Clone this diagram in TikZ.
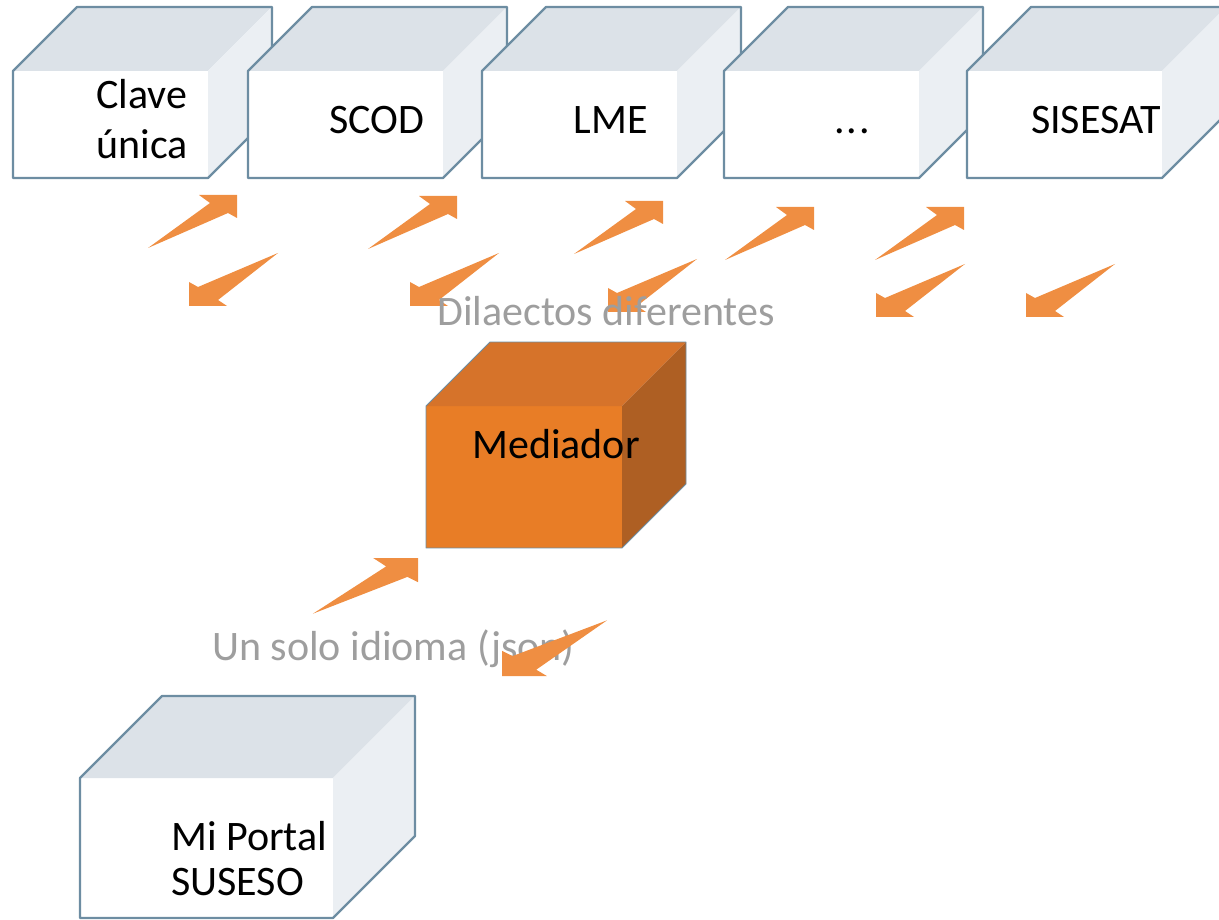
\documentclass[tikz,border=0pt]{standalone}
\usepackage{fontspec}
\setmainfont{Carlito}
\definecolor{edge}{HTML}{6D8DA2}
\definecolor{grayfront}{HTML}{FFFFFF}
\definecolor{graytop}{HTML}{DCE2E8}
\definecolor{grayside}{HTML}{EBEFF3}
\definecolor{orfront}{HTML}{E87D26}
\definecolor{ortop}{HTML}{D6732A}
\definecolor{orside}{HTML}{AE5F23}
\definecolor{arrowor}{HTML}{EF8E42}
\definecolor{labelgray}{HTML}{9E9E9E}
\newcommand\cubebox[8]{% name, x, y, w, h, d, colour prefix, edge width
  \fill[#7front] (#2,#3) rectangle ({#2+#4},{#3+#5});
  \fill[#7top] (#2,#3) -- ({#2+#4},#3) -- ({#2+#4+#6},{#3-#6}) -- ({#2+#6},{#3-#6}) -- cycle;
  \fill[#7side] ({#2+#4},#3) -- ({#2+#4+#6},{#3-#6}) -- ({#2+#4+#6},{#3+#5-#6}) -- ({#2+#4},{#3+#5}) -- cycle;
  \draw[edge,line width=#8,line join=round] (#2,#3) -- ({#2+#6},{#3-#6}) -- ({#2+#4+#6},{#3-#6}) -- ({#2+#4+#6},{#3+#5-#6}) -- ({#2+#4},{#3+#5}) -- (#2,{#3+#5}) -- cycle;
  \coordinate (#1) at ({#2+#4/2},{#3+#5/2});
}
\newcommand\myuparr[4]{% x, y, xscale, yscale
  \begin{scope}[shift={(#1,#2)},xscale=#3,yscale=#4]
    \fill[arrowor] (0,0) -- (0,23) -- (-9,18) -- (-89,53) -- (-27,8) -- (-38,0) -- cycle;
  \end{scope}
}
\newcommand\mydownarr[4]{%
  \begin{scope}[shift={(#1,#2)},xscale=#3,yscale=#4]
    \fill[arrowor] (0,0) -- (0,-24) -- (9,-19) -- (89,-53) -- (29,-6) -- (38,0) -- cycle;
  \end{scope}
}
\tikzset{
  boxtext/.style={font=\fontsize{42}{50}\selectfont, text=black, inner sep=0pt, anchor=base},
  lbl/.style={font=\fontsize{42}{50}\selectfont, text=labelgray, inner sep=0pt, anchor=base west}
}
\begin{document}
\begin{tikzpicture}[x=1pt,y=-1pt]
\useasboundingbox (0,0) rectangle (1219,920);
\clip (0,0) rectangle (1219,920);
% top row boxes
\cubebox{b1}{13}{71}{195}{107}{64}{gray}{2.4pt}
\cubebox{b2}{248}{71}{195}{107}{64}{gray}{2.4pt}
\cubebox{b3}{482}{71}{195}{107}{64}{gray}{2.4pt}
\cubebox{b4}{724}{71}{195}{107}{64}{gray}{2.4pt}
\cubebox{b5}{967}{71}{195}{107}{64}{gray}{2.4pt}
\node[boxtext] (t1a) at (142,109) {Clave};
\node[boxtext] (t1b) at (142,159) {única};
\node[boxtext] (t2) at (377,134) {SCOD};
\node[boxtext] (t3) at (611,134) {LME};
\node[boxtext] (t4) at (852,134) {.\kern2pt.\kern2pt.};
\node[boxtext] (t5) at (1096,134) {SISESAT};
% arrows top row
\myuparr{237}{195}{1}{1}
\myuparr{457}{196}{1}{1}
\myuparr{663}{201}{1}{1}
\myuparr{814}{207}{1}{1}
\myuparr{964}{207}{1}{1}
\mydownarr{189}{306}{1}{1}
\mydownarr{410}{306}{1}{1}
\mydownarr{608}{312}{1}{1}
\mydownarr{876}{317}{1}{1}
\mydownarr{1026}{317}{1}{1}
\node[lbl] (l1) at (437,325) {Dilaectos diferentes};
% mediator
\cubebox{med}{426}{406}{196}{142}{64}{or}{0.8pt}
\node[boxtext] (tm) at (556,458) {Mediador};
% bottom
\node[lbl] (l2) at (212,660) {Un solo idioma (json)};
\myuparr{418}{558}{1.18}{1.05}
\mydownarr{502}{676}{1.18}{1.05}
\cubebox{mp}{80}{778}{253}{140}{82}{gray}{2.4pt}
\node[boxtext,anchor=base west] (tp1) at (171,850) {Mi Portal};
\node[boxtext,anchor=base west] (tp2) at (171,895) {SUSESO};
\end{tikzpicture}
\end{document}
